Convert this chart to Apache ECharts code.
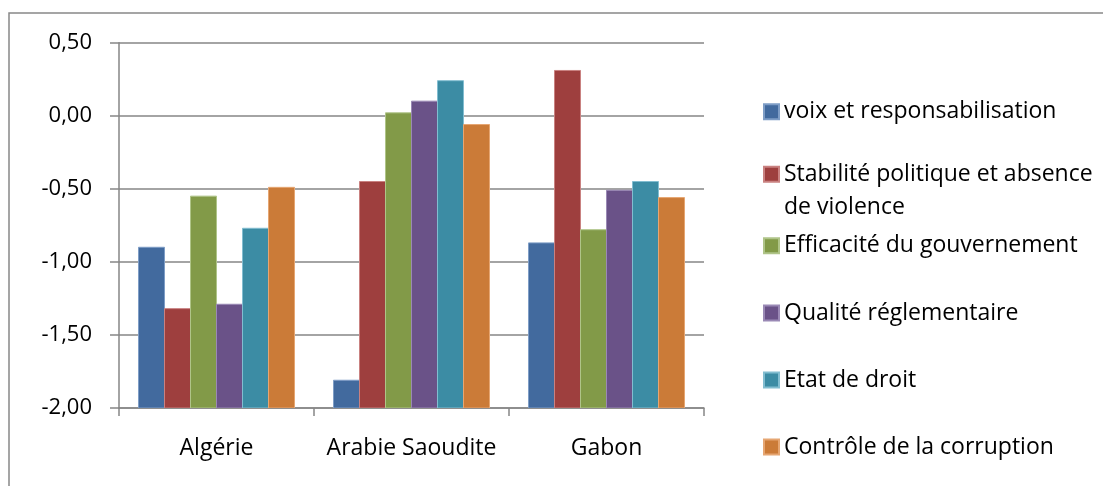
<!DOCTYPE html>
<html>
<head>
<meta charset="utf-8">
<script src="https://cdn.jsdelivr.net/npm/echarts@6/dist/echarts.min.js"></script>
<style>
  html, body { margin: 0; padding: 0; background: #fff; }
  #chart { width: 1103px; height: 486px; }
</style>
</head>
<body>
<div id="chart"></div>
<script>
// Indicateurs de gouvernance par pays
const categories = ['Algérie', 'Arabie Saoudite', 'Gabon'];
const seriesNames = [
  'voix et responsabilisation',
  'Stabilité politique et absence de violence',
  'Efficacité du gouvernement',
  'Qualité réglementaire',
  'Etat de droit',
  'Contrôle de la corruption'
];
const voix = [-0.90, -1.81, -0.87];
const stabilite = [-1.32, -0.45, 0.31];
const efficacite = [-0.55, 0.02, -0.78];
const qualite = [-1.29, 0.10, -0.51];
const etatDroit = [-0.77, 0.24, -0.45];
const corruption = [-0.49, -0.06, -0.56];
const yTicks = [-2.0, -1.5, -1.0, -0.5, 0.0, 0.5];

const allValues = [voix, stabilite, efficacite, qualite, etatDroit, corruption];
const fills = ['#426A9E', '#9E3F3E', '#829A48', '#6A5288', '#3C8CA4', '#CB7B38'];
const strokes = ['#7E9DC6', '#C98180', '#AFC488', '#9A89B5', '#82BDD0', '#E6A672'];

const FONT = '"Open Sans", "Noto Sans", sans-serif';
const yMin = yTicks[0];
const yMax = yTicks[yTicks.length - 1];
const groupFrac = 0.8;   // share of each category band covered by its bars

const chart = echarts.init(document.getElementById('chart'), null, { renderer: 'canvas' });

// Bars rise from the bottom of the value axis, like the spreadsheet original
function makeSeries(idx) {
  const n = allValues.length;
  return {
    name: seriesNames[idx],
    type: 'custom',
    itemStyle: { color: fills[idx], borderColor: strokes[idx], borderWidth: 1 },
    data: allValues[idx].map((v, i) => [i, v]),
    clip: true,
    renderItem: function (params, api) {
      const top = api.coord([api.value(0), api.value(1)]);
      const base = api.coord([api.value(0), yMin]);
      const band = api.size([1, 0])[0];
      const bw = band * groupFrac / n;
      const x0 = top[0] - band * groupFrac / 2 + idx * bw;
      return {
        type: 'rect',
        shape: { x: x0, y: top[1], width: bw, height: base[1] - top[1] },
        style: { fill: fills[idx], stroke: strokes[idx], lineWidth: 1 }
      };
    }
  };
}

// Legend rows: centre of each colour square
const legendCentres = [107.7, 174.3, 241.7, 309, 376, 443];
const legends = seriesNames.map((name, i) => {
  const twoLine = i === 1;
  return {
    data: [name],
    orient: 'vertical',
    left: 763,
    top: twoLine ? legendCentres[i] - 49.5 : legendCentres[i] - 7.5,
    padding: 0,
    itemWidth: 15,
    itemHeight: 15,
    icon: 'rect',
    selectedMode: false,
    formatter: twoLine
      ? () => '\nStabilité politique et absence\nde violence'
      : '{name}',
    textStyle: {
      fontFamily: FONT,
      fontSize: 23,
      color: '#000',
      lineHeight: twoLine ? 33 : 15
    }
  };
});

const option = {
  backgroundColor: '#fff',
  animation: false,
  textStyle: { fontFamily: FONT },
  // chart-area frame: only its top and left edges fall inside the view
  graphic: [{
    type: 'polyline',
    shape: { points: [[9, 700], [9, 13], [1300, 13]] },
    style: { fill: 'none', stroke: '#888', lineWidth: 1.5 },
    silent: true,
    z: -1
  }],
  grid: { left: 119, top: 42.7, width: 585, height: 365.3, containLabel: false },
  legend: legends,
  xAxis: {
    type: 'category',
    data: categories,
    boundaryGap: true,
    axisLine: { show: true, onZero: false, lineStyle: { color: '#868686', width: 1.5 } },
    axisTick: { show: true, length: 8, lineStyle: { color: '#868686', width: 1.5 } },
    axisLabel: { fontFamily: FONT, fontSize: 23, color: '#000', margin: 29, interval: 0 }
  },
  yAxis: {
    type: 'value',
    min: yMin,
    max: yMax,
    interval: 0.5,
    axisLine: { show: true, lineStyle: { color: '#868686', width: 1.5 } },
    axisTick: { show: true, length: 9, lineStyle: { color: '#868686', width: 1.5 } },
    splitLine: { show: true, lineStyle: { color: '#868686', width: 1.5 } },
    axisLabel: {
      fontFamily: FONT, fontSize: 22, color: '#000', margin: 27,
      formatter: v => v.toFixed(2).replace('.', ',')
    }
  },
  series: seriesNames.map((_, i) => makeSeries(i))
};

chart.setOption(option);
</script>
</body>
</html>
